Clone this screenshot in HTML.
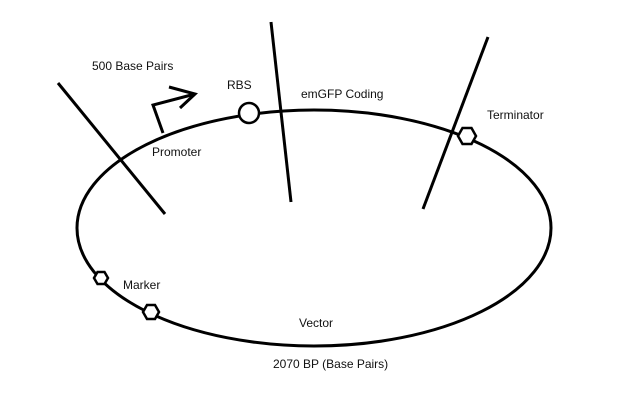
<!DOCTYPE html>
<html><head><meta charset="utf-8"><style>
html,body{margin:0;padding:0;background:#fff;}
svg{display:block;}
text{font-family:"Liberation Sans",sans-serif;font-size:12px;fill:#111;}
</style></head><body>
<svg width="632" height="403" viewBox="0 0 632 403" xmlns="http://www.w3.org/2000/svg">
<g fill="none" stroke="#000" stroke-width="3">
<ellipse cx="314" cy="228" rx="237" ry="118"/>
<line x1="58" y1="83" x2="165" y2="214"/>
<line x1="271" y1="22" x2="291" y2="202"/>
<line x1="488" y1="37" x2="423" y2="209"/>
<polyline points="163,133 153,105 195,94"/>
<polyline points="169,87 195,94 180,108"/>
</g>
<circle cx="249" cy="113" r="10" fill="#fff" stroke="#000" stroke-width="2.5"/>
<polygon points="458,136 462.5,128 471.5,128 476,136 471.5,144 462.5,144" fill="#fff" stroke="#000" stroke-width="2.5"/>
<polygon points="94,278 97.5,272 104.5,272 108,278 104.5,284 97.5,284" fill="#fff" stroke="#000" stroke-width="2.5"/>
<polygon points="143,312 147,305 155,305 159,312 155,319 147,319" fill="#fff" stroke="#000" stroke-width="2.5"/>
<text x="92" y="70">500 Base Pairs</text>
<text x="227" y="89">RBS</text>
<text x="301" y="98">emGFP Coding</text>
<text x="487" y="119">Terminator</text>
<text x="152" y="156">Promoter</text>
<text x="123" y="289">Marker</text>
<text x="299" y="327">Vector</text>
<text x="273" y="368">2070 BP (Base Pairs)</text>
</svg>
</body></html>
